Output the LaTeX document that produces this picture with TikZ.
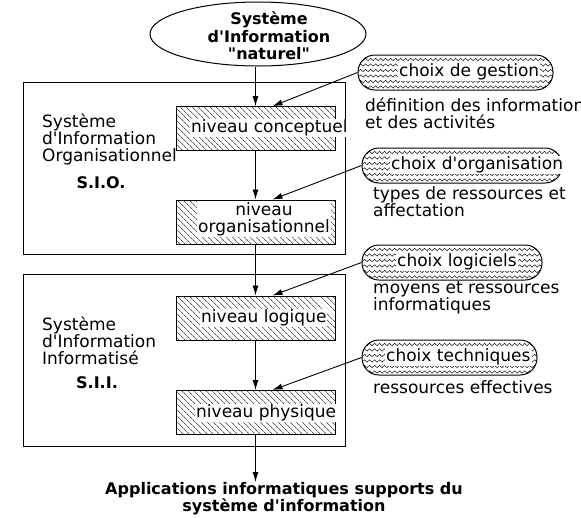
\documentclass[tikz,border=0pt]{standalone}
\usepackage{fontspec}
\setmainfont{DejaVu Sans}[Ligatures=TeXOff]
\usetikzlibrary{patterns.meta,shapes.geometric,decorations.pathmorphing,arrows.meta,calc}

\newcommand{\txt}{\fontsize{17}{17}\selectfont}
\newcommand{\gras}{\fontsize{16}{17.5}\selectfont\bfseries}

\begin{document}
\begin{tikzpicture}[x=1pt,y=-1pt,
	cadre/.style={draw, line width=1pt, inner sep=0pt},
	niveau/.style={draw, line width=1pt, inner sep=0pt, pattern={Lines[angle=-45, distance=4pt, line width=0.6pt]}, minimum width=159pt, minimum height=44pt},
	etiq/.style={fill=white, inner sep=1pt, font=\txt, align=center},
	texte/.style={font=\txt, align=left, inner sep=0pt},
	vague/.style={sharp corners, line width=0.45pt, decorate, decoration={snake, amplitude=1.2pt, segment length=5pt}},
	choix/.style={draw, line width=1pt, rounded corners=17pt, inner sep=0pt, minimum height=35pt, path picture={
		\foreach \k in {1,...,6}
			\draw[vague] ([xshift=-4pt, yshift=-\k*5.5pt+1pt]path picture bounding box.north west) -- ([xshift=4pt, yshift=-\k*5.5pt+1pt]path picture bounding box.north east);
	}},
	fleche/.style={-{Latex[length=10pt, width=6pt]}, line width=0.9pt}]

	\useasboundingbox (0,0) rectangle (581,517);

	\node[cadre, minimum width=322pt, minimum height=172pt] (sio) at (184,168) {};
	\node[cadre, minimum width=322pt, minimum height=172pt] (sii) at (184,360) {};

	\node[draw, ellipse, line width=1pt, minimum width=216pt, minimum height=64pt] (nat) at (258,34) {};
	\node[font=\gras, align=center, inner sep=0pt] (natT) at (269,36) {Système\\d'Information\\"naturel"};

	\node[niveau] (conc) at (255.5,128.5) {};
	\node[niveau] (orga) at (255.5,222) {};
	\node[niveau] (logi) at (255.5,318) {};
	\node[niveau] (phys) at (255.5,412.5) {};

	\node[etiq, anchor=west] (concT) at (190,128) {niveau conceptuel};
	\node[etiq] (orgaT) at (264,219) {niveau\\organisationnel};
	\node[etiq, anchor=west] (logiT) at (200,318) {niveau logique};
	\node[etiq, anchor=west] (physT) at (195,413) {niveau physique};

	\node[texte, anchor=west] (sioT) at (42,139) {Système\\d'Information\\Organisationnel};
	\node[font=\gras, inner sep=0pt] (sioA) at (101,183) {S.I.O.};
	\node[texte, anchor=west] (siiT) at (42,341) {Système\\d'Information\\Informatisé};
	\node[font=\gras, inner sep=0pt] (siiA) at (97,383) {S.I.I.};

	\node[choix, minimum width=195pt] (gest) at (455.5,72.5) {};
	\node[etiq, anchor=west] (gestT) at (398,72) {choix de gestion};
	\node[choix, minimum width=200pt] (orgc) at (462,165.5) {};
	\node[etiq, anchor=west] (orgcT) at (390,165) {choix d'organisation};
	\node[choix, minimum width=180pt] (logc) at (452,262.5) {};
	\node[etiq, anchor=west] (logcT) at (396,262) {choix logiciels};
	\node[choix, minimum width=175pt] (tecc) at (449.5,357.5) {};
	\node[etiq, anchor=west] (teccT) at (385,357) {choix techniques};

	\node[texte, anchor=west] (gestD) at (365,113.5) {définition des informations\\et des activités};
	\node[texte, anchor=west] (orgcD) at (373,202) {types de ressources et\\affectation};
	\node[texte, anchor=west] (logcD) at (373,298) {moyens et ressources\\informatiques};
	\node[texte, anchor=west] (teccD) at (373,387) {ressources effectives};

	\node[font=\gras, align=center, inner sep=0pt, anchor=north] (appl) at (284,482) {Applications informatiques supports du\\système d'information};

	\draw[fleche] (conc.north |- nat.south) -- (conc.north);
	\draw[fleche] (conc.south) -- (orga.north);
	\draw[fleche] (orga.south) -- (logi.north);
	\draw[fleche] (logi.south) -- (phys.north);
	\draw[fleche] (phys.south) -- (phys.south |- appl.north);

	\draw[fleche] (gest.west) -- ($(conc.north)+(17,0)$);
	\draw[fleche] (orgc.west) -- ($(orga.north)+(17,0)$);
	\draw[fleche] (logc.west) -- ($(logi.north)+(17,0)$);
	\draw[fleche] (tecc.west) -- ($(phys.north)+(17,0)$);
\end{tikzpicture}
\end{document}
